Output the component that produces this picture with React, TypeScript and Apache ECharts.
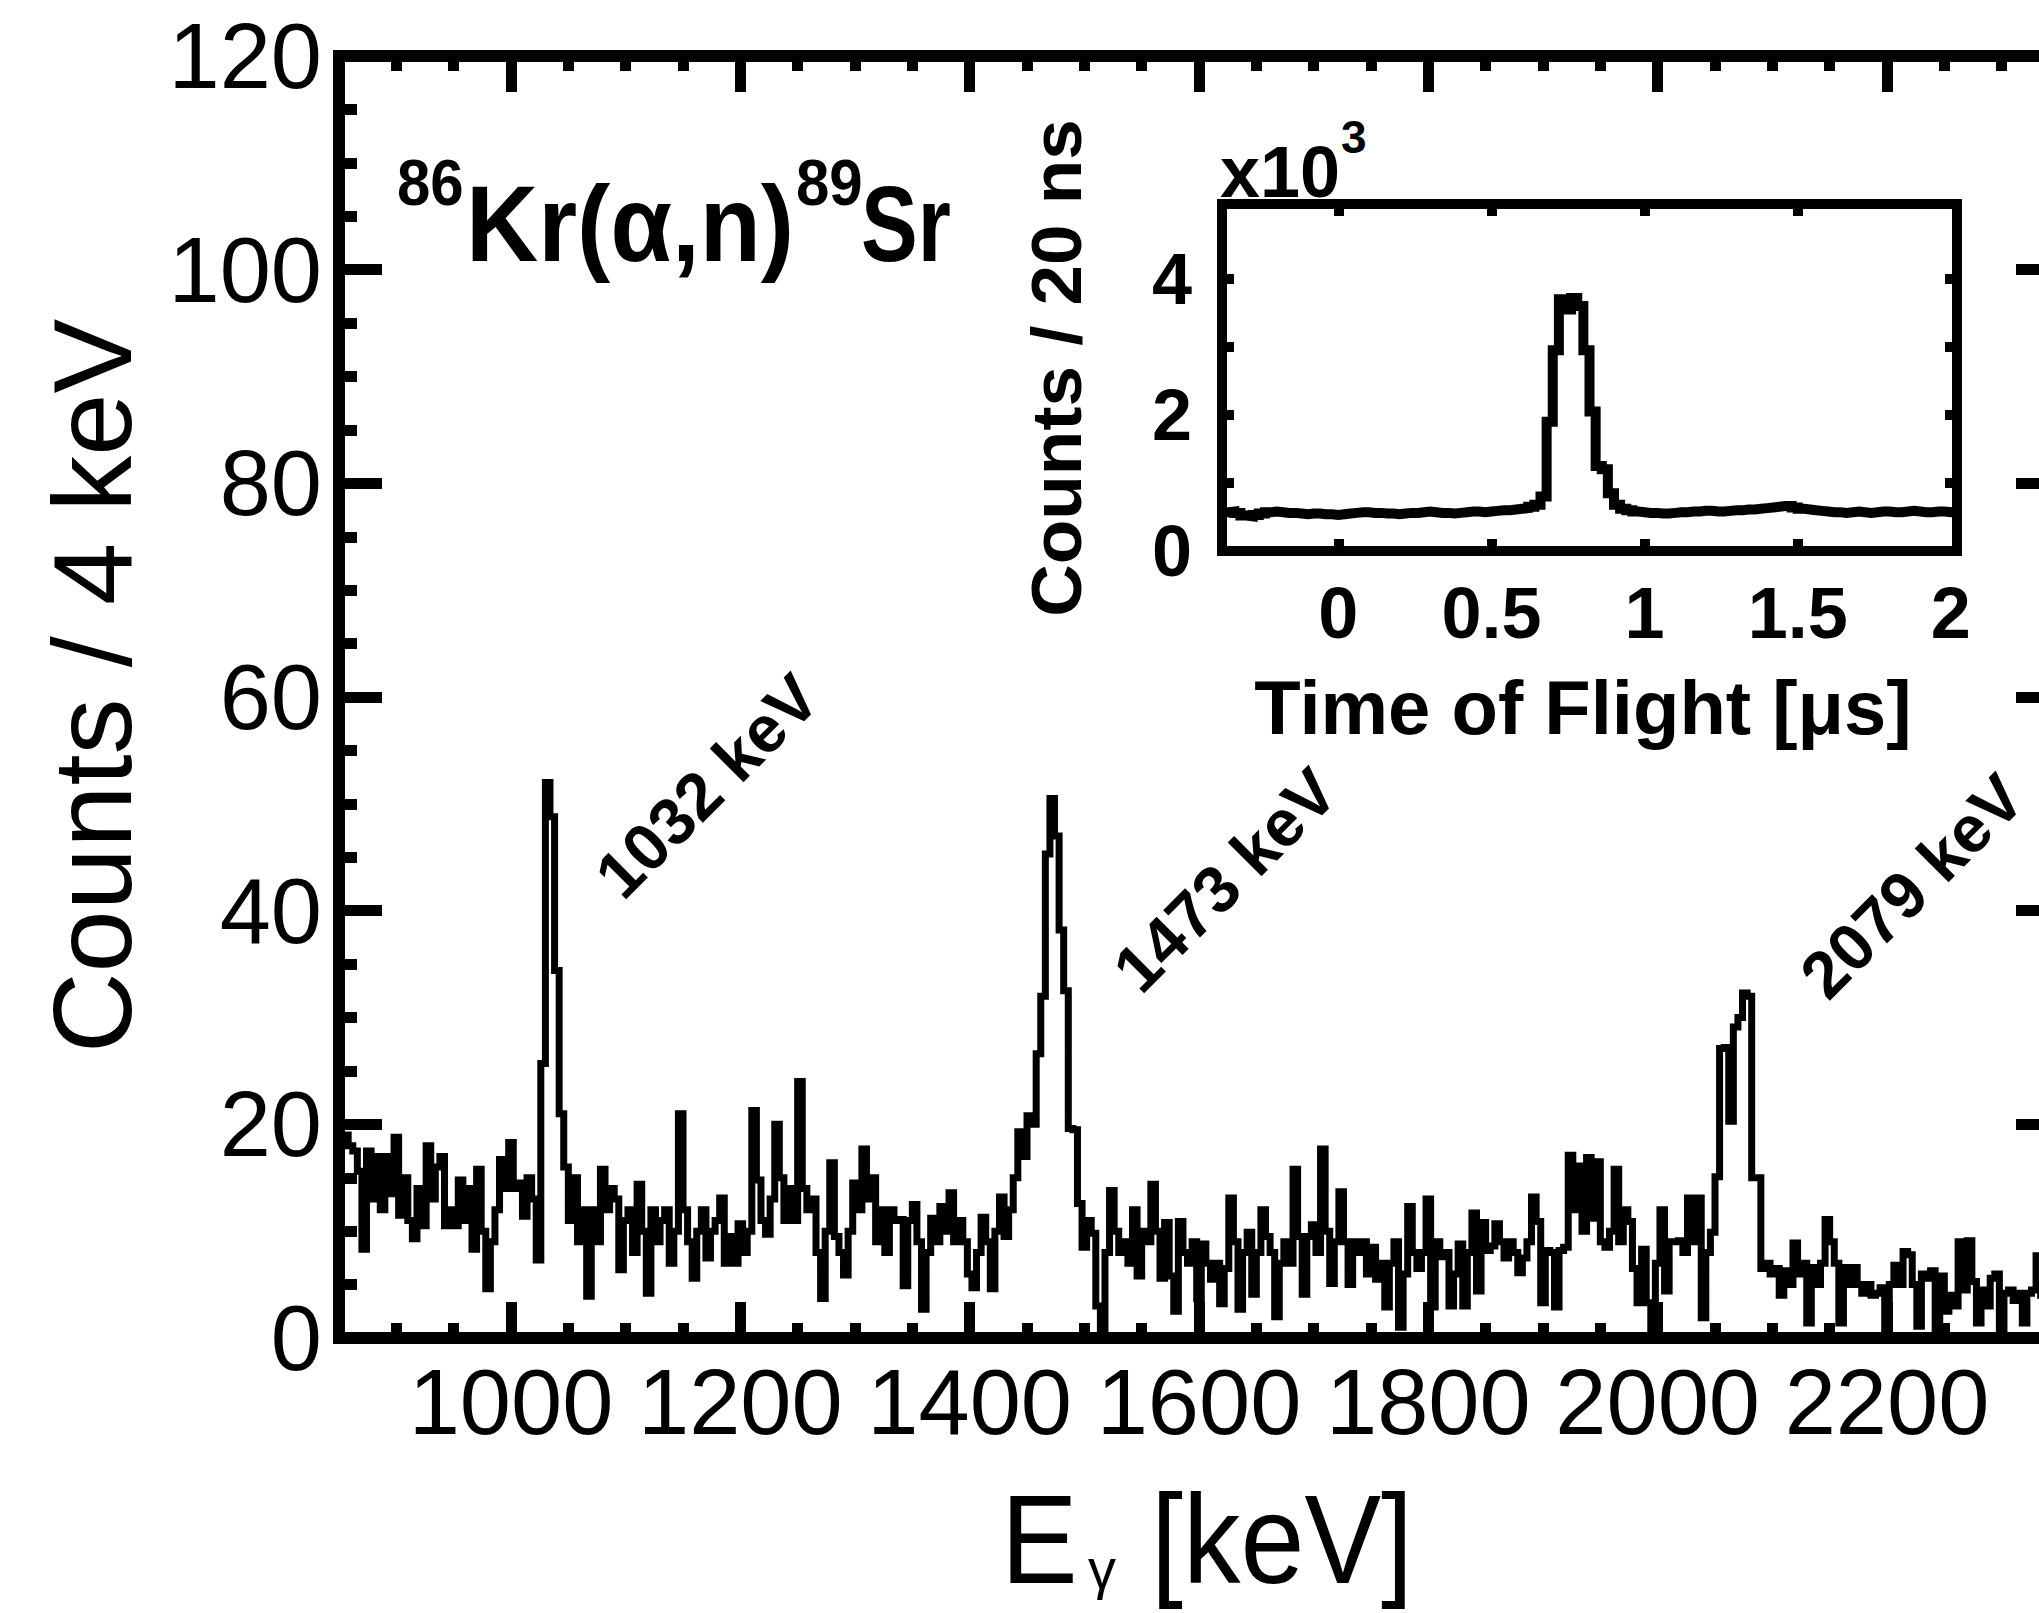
import React, { useEffect, useRef } from "react";
import * as echarts from "echarts";

// ---------------- data ----------------
const energyStartKeV = 850;
const energyEndKeV = 2350;
const binWidthKeV = 4;
// counts per 4 keV bin, starting at 850 keV
const gammaCounts = [
  18, 19, 18, 17.5, 15.6, 8.3, 17.5, 13, 17, 12,
  17, 13.5, 18.8, 11.5, 15, 11, 9.3, 14, 10.5, 18,
  13, 16, 17, 10.5, 12, 10.5, 14.8, 11, 14, 8.3,
  15.8, 10, 4.6, 9, 12, 16.7, 14, 18.3, 14, 14.5,
  11.4, 15, 13, 7.3, 25.7, 52, 48.8, 34.4, 21, 16,
  11, 15, 9, 12, 3.9, 12, 9, 15.8, 12, 14,
  13, 6.4, 11, 12, 8, 14.4, 10, 4.2, 12, 9,
  11, 12, 7, 10, 21, 12, 9, 5.6, 10, 12,
  7.5, 10, 11, 13.1, 7, 9.5, 7, 10.7, 8, 10,
  21.3, 14.8, 11, 9.7, 13, 20, 15, 11, 14, 11,
  24, 14, 12, 13, 8, 3.7, 10, 16.4, 9.5, 8,
  5.9, 10, 14.5, 12, 17.7, 13, 15, 9, 12, 8,
  12, 11, 11.1, 4.9, 11, 12.5, 9, 2.7, 8, 11.2,
  9, 12.3, 10, 13.6, 9, 11, 9, 6, 4.7, 8,
  11.3, 9, 4.6, 10, 13.2, 9.5, 12, 15, 19.3, 17,
  20.8, 20, 26.6, 32, 45.3, 50.5, 47, 38.2, 32.5, 19.6,
  19.5, 12.6, 8.5, 11, 9.8, 3, 0.7, 8, 13.8, 10,
  8, 9, 7, 12, 5.8, 10, 9, 14.4, 10, 5.6,
  10.8, 5.8, 2.5, 10.9, 8, 7, 9, 3.7, 8.8, 7,
  5.5, 7, 3.2, 6.5, 13.1, 9, 2.7, 8, 9.9, 4.1,
  8, 12, 9.5, 8, 2, 7, 9, 7, 15.8, 9.5,
  4.1, 9.5, 10.6, 8, 17.7, 10, 5.1, 9, 13.7, 9,
  5, 9, 8, 9, 6, 8.5, 5.5, 7, 2.9, 7,
  9, 1, 6, 12.3, 8, 6.5, 8, 13, 2.9, 9,
  7.6, 8, 3, 6, 8.8, 3, 8, 11.7, 4.4, 10.8,
  8.2, 8.6, 10.7, 9, 7.5, 9, 8, 6.1, 7.5, 9,
  13.2, 10.9, 3.3, 8.2, 8, 2.9, 8.2, 8.5, 17.1, 12,
  16.1, 10, 16.9, 11.2, 16.5, 9, 8.5, 10, 15.8, 9,
  12, 10.9, 6.5, 3.3, 8.3, 3.3, 0.3, 7, 12, 4.4,
  9, 9, 9.1, 8, 13.1, 9, 13.1, 1.9, 8, 9.9,
  15.1, 27.1, 27.2, 20.3, 29.1, 30, 32.3, 32, 15, 15,
  6.5, 7, 6, 6.5, 4, 6.3, 5, 8.9, 6, 7,
  1.4, 6.6, 5, 7, 11.1, 9, 7, 1.4, 6.6, 5,
  6.6, 5, 4.2, 5, 4, 4.2, 4.7, 0.3, 5, 6.8,
  5, 8.1, 7.8, 5, 1.1, 6, 5.6, 6.3, 0.3, 5.8,
  2.5, 4, 3, 9, 4.5, 9.1, 5.3, 1.4, 4.5, 3,
  5.6, 6, 0.3, 4.2, 4.5, 3.5, 4.2, 1.4, 4.2, 4.5,
  7.7, 4, 5, 3, 4,
];
const xMajorTicks = [1000, 1200, 1400, 1600, 1800, 2000, 2200];
const xMinorTicks = [
  900, 950, 1050, 1100, 1150, 1250, 1300, 1350, 1450, 1500, 1550, 1650, 1700,
  1750, 1850, 1900, 1950, 2050, 2100, 2150, 2250, 2300,
];
const yLabels = [0, 20, 40, 60, 80, 100, 120];
const yMajorTicks = [20, 40, 60, 80, 100];
const yMinorTicks = [
  5, 10, 15, 25, 30, 35, 45, 50, 55, 65, 70, 75, 85, 90, 95, 105, 110, 115,
];
const peakNames = ["1032 keV", "1473 keV", "2079 keV"];

// inset: time of flight, counts / 20 ns (x10^3), bins start at -0.38 us
const tofStartUs = -0.38;
const tofEndUs = 2.02;
const tofBinUs = 0.02;
const tofCounts = [
  0.57, 0.58, 0.56, 0.52, 0.51, 0.53, 0.55, 0.57, 0.58, 0.57,
  0.56, 0.56, 0.55, 0.54, 0.55, 0.55, 0.54, 0.54, 0.53, 0.54,
  0.55, 0.56, 0.57, 0.57, 0.56, 0.56, 0.55, 0.55, 0.54, 0.55,
  0.56, 0.56, 0.57, 0.58, 0.57, 0.56, 0.56, 0.55, 0.56, 0.57,
  0.58, 0.58, 0.57, 0.58, 0.59, 0.6, 0.6, 0.61, 0.62, 0.63,
  0.65, 0.68, 0.8, 1.9, 2.95, 3.7, 3.55, 3.72, 3.6, 2.95,
  2.05, 1.25, 1.2, 0.85, 0.68, 0.62, 0.6, 0.58, 0.57, 0.56,
  0.56, 0.55, 0.55, 0.56, 0.57, 0.57, 0.58, 0.58, 0.59, 0.59,
  0.58, 0.58, 0.59, 0.6, 0.6, 0.61, 0.61, 0.62, 0.63, 0.64,
  0.65, 0.66, 0.66, 0.64, 0.62, 0.61, 0.6, 0.59, 0.58, 0.57,
  0.57, 0.56, 0.57, 0.58, 0.57, 0.56, 0.57, 0.58, 0.58, 0.57,
  0.57, 0.58, 0.59, 0.58, 0.57, 0.57, 0.58, 0.58, 0.57, 0.58,
];
const tofLabels = [0, 0.5, 1, 1.5, 2];
const tofTicks = [0, 0.5, 1, 1.5];
const tofYLabels = [0, 2, 4];
const tofYTicks = [1, 2, 3, 4];

// ---------------- helpers ----------------
const BLACK = "#000";
const FONT = '"Liberation Sans", Arial, Helvetica, sans-serif';

function histogramPoints(start: number, width: number, values: number[]) {
  const pts = values.map((v, i) => [start + i * width, v]);
  pts.push([start + values.length * width, values[values.length - 1]]);
  return pts;
}

function axis(o: any) {
  return {
    type: "value",
    gridIndex: o.grid,
    position: o.position,
    min: o.min,
    max: o.max,
    axisLine: {
      show: o.line,
      onZero: false,
      lineStyle: { color: BLACK, width: o.lineWidth, cap: "square" },
    },
    axisTick: {
      show: true,
      inside: true,
      length: o.tickLen,
      customValues: o.ticks,
      lineStyle: { color: BLACK, width: o.tickWidth },
    },
    axisLabel: o.labels
      ? {
          show: true,
          customValues: o.labels,
          showMinLabel: true,
          showMaxLabel: true,
          fontSize: o.fontSize,
          fontWeight: o.fontWeight || "normal",
          fontFamily: FONT,
          color: BLACK,
          margin: o.margin,
          formatter: (v: number) => String(v),
        }
      : { show: false },
    splitLine: { show: false },
    minorTick: { show: false },
  };
}

function txt(text: string, x: number, y: number, size: number, weight: string, extra: any = {}) {
  return {
    type: "text",
    x,
    y,
    rotation: extra.rotation || 0,
    scaleX: extra.scaleX || 1,
    scaleY: extra.scaleY || 1,
    z: 100,
    style: {
      text,
      fontSize: size,
      fontWeight: weight,
      fontFamily: FONT,
      fill: BLACK,
      align: extra.align || "center",
      verticalAlign: "middle",
    },
  };
}

export default function App() {
  const ref = useRef<HTMLDivElement>(null);

  useEffect(() => {
    if (!ref.current) return;
    const chart = echarts.init(ref.current, undefined, { renderer: "svg" });

    const mainGrid = {
      left: 339,
      top: 56,
      width: 1720,
      height: 1282,
      show: false,
      containLabel: false,
      outerBoundsMode: "none",
    };
    const insetGrid = {
      left: 1222,
      top: 204,
      width: 735,
      height: 347,
      show: false,
      containLabel: false,
      outerBoundsMode: "none",
    };

    const xMain = { grid: 0, min: energyStartKeV, max: energyEndKeV, lineWidth: 12, tickWidth: 11 };
    const yMain = { grid: 0, min: 0, max: 120, lineWidth: 12, tickWidth: 11 };
    const xIn = { grid: 1, min: tofStartUs, max: tofEndUs, lineWidth: 10, tickWidth: 10 };
    const yIn = { grid: 1, min: 0, max: 5.1, lineWidth: 10, tickWidth: 10 };

    const option: any = {
      animation: false,
      backgroundColor: "#fff",
      grid: [mainGrid, insetGrid],
      xAxis: [
        axis({ ...xMain, position: "bottom", line: true, tickLen: 36, ticks: xMajorTicks, labels: xMajorTicks, fontSize: 92, margin: 18 }),
        axis({ ...xMain, position: "bottom", line: false, tickLen: 15, ticks: xMinorTicks }),
        axis({ ...xMain, position: "top", line: true, tickLen: 36, ticks: xMajorTicks }),
        axis({ ...xMain, position: "top", line: false, tickLen: 15, ticks: xMinorTicks }),
        axis({ ...xIn, position: "bottom", line: true, tickLen: 12, ticks: tofTicks, labels: tofLabels, fontSize: 72, fontWeight: "bold", margin: 26 }),
        axis({ ...xIn, position: "top", line: true, tickLen: 12, ticks: tofTicks }),
      ],
      yAxis: [
        axis({ ...yMain, position: "left", line: true, tickLen: 43, ticks: yMajorTicks, labels: yLabels, fontSize: 92, margin: 17 }),
        axis({ ...yMain, position: "left", line: false, tickLen: 18, ticks: yMinorTicks }),
        axis({ ...yMain, position: "right", line: true, tickLen: 43, ticks: yMajorTicks }),
        axis({ ...yMain, position: "right", line: false, tickLen: 18, ticks: yMinorTicks }),
        axis({ ...yIn, position: "left", line: true, tickLen: 12, ticks: tofYTicks, labels: tofYLabels, fontSize: 72, fontWeight: "bold", margin: 30 }),
        axis({ ...yIn, position: "right", line: true, tickLen: 12, ticks: tofYTicks }),
      ],
      series: [
        {
          type: "line",
          xAxisIndex: 0,
          yAxisIndex: 0,
          data: histogramPoints(energyStartKeV, binWidthKeV, gammaCounts),
          step: "end",
          symbol: "none",
          showSymbol: false,
          clip: true,
          lineStyle: { color: BLACK, width: 7, join: "miter", cap: "butt" },
          z: 3,
        },
        {
          type: "line",
          xAxisIndex: 4,
          yAxisIndex: 4,
          data: histogramPoints(tofStartUs, tofBinUs, tofCounts),
          step: "end",
          symbol: "none",
          showSymbol: false,
          clip: true,
          lineStyle: { color: BLACK, width: 10, join: "miter", cap: "butt" },
          z: 10,
        },
      ],
      graphic: [
        txt("Counts / 4 keV", 92, 686, 112, "normal", { rotation: Math.PI / 2 }),
        txt("E", 1001, 1540, 115, "normal", { align: "left", scaleY: 1.1 }),
        txt("γ", 1088, 1568, 56, "normal", { align: "left" }),
        txt("[keV]", 1151, 1540, 115, "normal", { align: "left", scaleY: 1.1 }),
        txt("86", 397, 182, 60, "bold", { align: "left", scaleY: 1.08 }),
        txt("Kr(α,n)", 466, 224, 100, "bold", { align: "left", scaleY: 1.08 }),
        txt("89", 796, 182, 60, "bold", { align: "left", scaleY: 1.08 }),
        txt("Sr", 861, 224, 100, "bold", { align: "left", scaleY: 1.08, scaleX: 0.85 }),
        txt(peakNames[0], 707, 786, 66, "bold", { rotation: Math.PI / 4 }),
        txt(peakNames[1], 1225, 880, 66, "bold", { rotation: Math.PI / 4 }),
        txt(peakNames[2], 1912, 886, 66, "bold", { rotation: Math.PI / 4 }),
        txt("Counts / 20 ns", 1056, 368, 70, "bold", { rotation: Math.PI / 2, scaleX: 1.04 }),
        txt("Time of Flight [μs]", 1583, 707, 76, "bold"),
        txt("x10", 1220, 172, 72, "bold", { align: "left" }),
        txt("3", 1341, 137, 46, "bold", { align: "left" }),
      ],
    };

    chart.setOption(option);
    return () => chart.dispose();
  }, []);

  return (
    <div
      ref={ref}
      style={{ position: "fixed", left: 0, top: 0, width: 2100, height: 1613, background: "#fff" }}
    />
  );
}
